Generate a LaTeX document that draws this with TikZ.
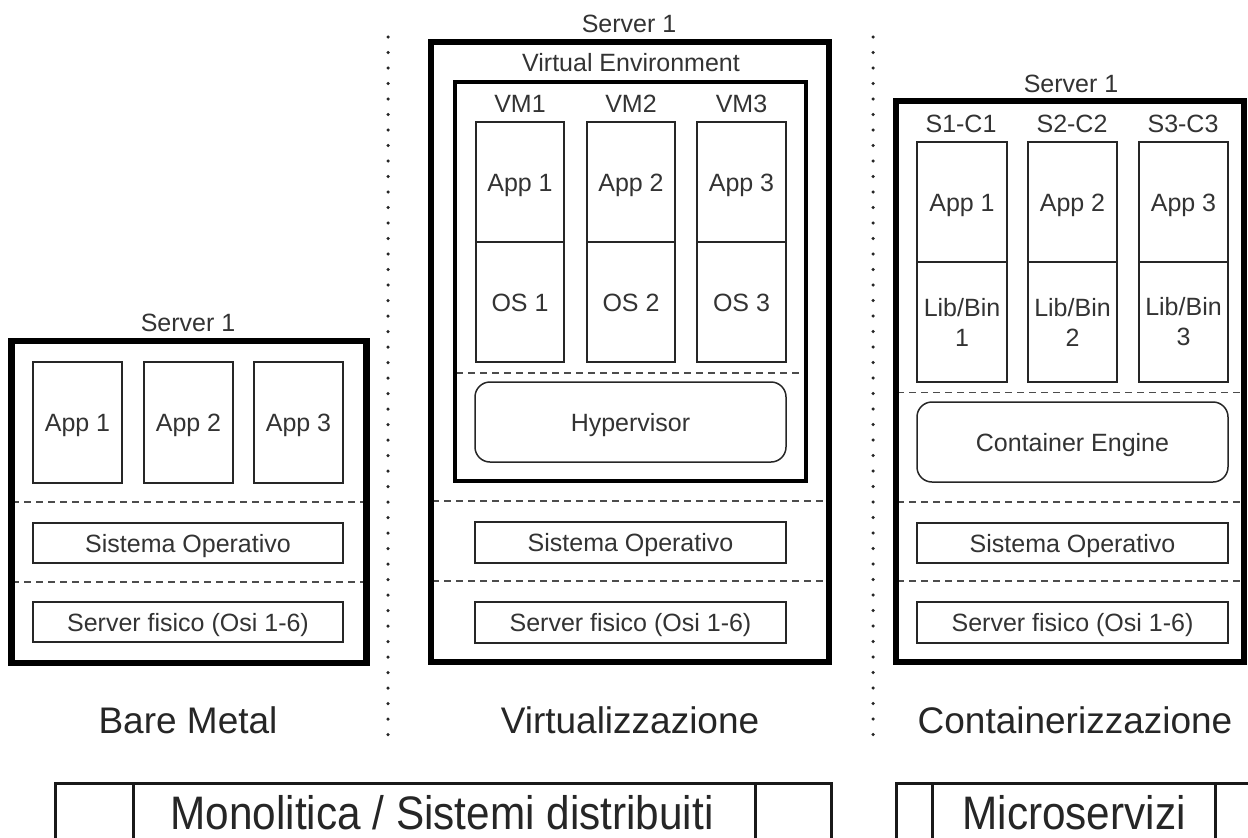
\documentclass[tikz,border=0pt]{standalone}
\usepackage{fontspec}
\usepackage{graphicx}
\setmainfont{Liberation Sans}
\begin{document}
\begin{tikzpicture}[x=1pt,y=-1pt,
  small/.style={font=\fontsize{25}{30}\selectfont, text=black!80},
  frame/.style={draw=black!85, line width=1.5pt, inner sep=0pt, small},
  box/.style={frame, text height=18pt, text depth=0pt},
  libbox/.style={frame, align=center},
  rbox/.style={box, rounded corners=15pt},
  lbl/.style={small, inner sep=0pt, text height=18pt, text depth=0pt},
  heavy/.style={draw=black, line width=6.5pt, inner sep=0pt},
  venv/.style={draw=black, line width=4.5pt, inner sep=0pt},
  layer/.style={draw=black!70, line width=1.5pt, dash pattern=on 7pt off 5pt},
  sep/.style={draw=black!85, line width=3.5pt, line cap=round, dash pattern=on 0pt off 15.5pt},
  title/.style={font=\fontsize{37}{44}\selectfont, text=black!85, inner sep=0pt, text height=26.5pt, text depth=0pt},
  bar/.style={draw=black!90, line width=3pt, inner sep=0pt},
  bartext/.style={text=black!85, inner sep=0pt, anchor=base, text depth=0pt}
]
\useasboundingbox (0,0) rectangle (1248,838);
\fill[white] (0,0) rectangle (1248,838);

% ---------------- separators
\coordinate (s1t) at (388,37); \coordinate (s1b) at (388,742);
\coordinate (s2t) at (873,37); \coordinate (s2b) at (873,742);
\draw[sep] (s1t) -- (s1b);
\draw[sep] (s2t) -- (s2b);

% ---------------- Bare metal
\draw[layer] (12,502) -- (366,502);
\draw[layer] (12,582) -- (366,582);
\node[heavy, minimum width=355pt, minimum height=322pt] (bm) at (189,502) {};
\node[lbl] (bmlabel) at (188,322) {Server 1};
\node[box, minimum width=89pt, minimum height=121pt] (bma1) at (77.5,422.5) {App 1};
\node[box, minimum width=89pt, minimum height=121pt] (bma2) at (188.5,422.5) {App 2};
\node[box, minimum width=89pt, minimum height=121pt] (bma3) at (298.5,422.5) {App 3};
\node[box, minimum width=310pt, minimum height=40pt] (bmos) at (188,543) {Sistema Operativo};
\node[box, minimum width=310pt, minimum height=40pt] (bmhw) at (188,622) {Server fisico (Osi 1-6)};
\node[title] (bmtitle) at (188,720.5) {Bare Metal};

% ---------------- Virtualizzazione
\draw[layer] (432,501) -- (828,501);
\draw[layer] (432,581) -- (828,581);
\draw[layer] (456,373) -- (805,373);
\node[heavy, minimum width=398pt, minimum height=620pt] (vs) at (630,352) {};
\node[lbl] (vslabel) at (629,23.5) {Server 1};
\node[venv, minimum width=351pt, minimum height=399pt] (ve) at (630.5,281.5) {};
\node[lbl] (velabel) at (631,62) {Virtual Environment};
\node[lbl] (vm1l) at (520,103) {VM1};
\node[lbl] (vm2l) at (631,103) {VM2};
\node[lbl] (vm3l) at (741.5,103) {VM3};
\node[box, minimum width=88pt, minimum height=120pt] (vm1a) at (520,182) {App 1};
\node[box, minimum width=88pt, minimum height=120pt] (vm2a) at (631,182) {App 2};
\node[box, minimum width=89pt, minimum height=120pt] (vm3a) at (741.5,182) {App 3};
\node[box, minimum width=88pt, minimum height=120pt] (vm1o) at (520,302) {OS 1};
\node[box, minimum width=88pt, minimum height=120pt] (vm2o) at (631,302) {OS 2};
\node[box, minimum width=89pt, minimum height=120pt] (vm3o) at (741.5,302) {OS 3};
\node[rbox, minimum width=311pt, minimum height=80pt] (hyp) at (630.5,422) {Hypervisor};
\node[box, minimum width=311pt, minimum height=41pt] (vsos) at (630.5,542.5) {Sistema Operativo};
\node[box, minimum width=311pt, minimum height=41pt] (vshw) at (630.5,622.5) {Server fisico (Osi 1-6)};
\node[title] (vstitle) at (630,720.5) {Virtualizzazione};

% ---------------- Containerizzazione
\draw[layer] (897,392.5) -- (1243,392.5);
\draw[layer] (897,502) -- (1243,502);
\draw[layer] (897,581) -- (1243,581);
\node[heavy, minimum width=348pt, minimum height=561pt] (cs) at (1070,381.5) {};
\node[lbl] (cslabel) at (1071,83.5) {Server 1};
\node[lbl] (c1l) at (961,123.5) {S1-C1};
\node[lbl] (c2l) at (1072,123.5) {S2-C2};
\node[lbl] (c3l) at (1183,123.5) {S3-C3};
\node[box, minimum width=90pt, minimum height=120pt] (c1a) at (962,202) {App 1};
\node[box, minimum width=89pt, minimum height=120pt] (c2a) at (1072.5,202) {App 2};
\node[box, minimum width=89pt, minimum height=120pt] (c3a) at (1183.5,202) {App 3};
\node[libbox, minimum width=90pt, minimum height=120pt] (c1b) at (962,322) {Lib/Bin\\1};
\node[libbox, minimum width=89pt, minimum height=120pt] (c2b) at (1072.5,322) {Lib/Bin\\2};
\node[libbox, minimum width=89pt, minimum height=120pt] (c3b) at (1183.5,322) {Lib/Bin\\3};
\node[rbox, minimum width=311pt, minimum height=80pt] (eng) at (1072.5,442) {Container Engine};
\node[box, minimum width=311pt, minimum height=40pt] (csos) at (1072.5,543) {Sistema Operativo};
\node[box, minimum width=311pt, minimum height=41pt] (cshw) at (1072.5,622.5) {Server fisico (Osi 1-6)};
\node[title] (cstitle) at (1075,720.5) {Containerizzazione};

% ---------------- bottom bars
\node[bar, anchor=north west, minimum width=776pt, minimum height=90pt] (mono) at (54,782) {};
\draw[bar] ([xshift=79pt]mono.north west) -- ([xshift=79pt]mono.south west);
\draw[bar] ([xshift=-78pt]mono.north east) -- ([xshift=-78pt]mono.south east);
\node[bartext] (monotext) at (442,829) {\scalebox{0.9}[1]{\fontsize{47}{56}\selectfont Monolitica / Sistemi distribuiti}};

\node[bar, anchor=north west, minimum width=370pt, minimum height=90pt] (micro) at (895,782) {};
\draw[bar] ([xshift=37pt]micro.north west) -- ([xshift=37pt]micro.south west);
\draw[bar] ([xshift=320pt]micro.north west) -- ([xshift=320pt]micro.south west);
\node[bartext] (microtext) at (1074,829) {\scalebox{0.9}[1]{\fontsize{47}{56}\selectfont Microservizi}};
\end{tikzpicture}
\end{document}
